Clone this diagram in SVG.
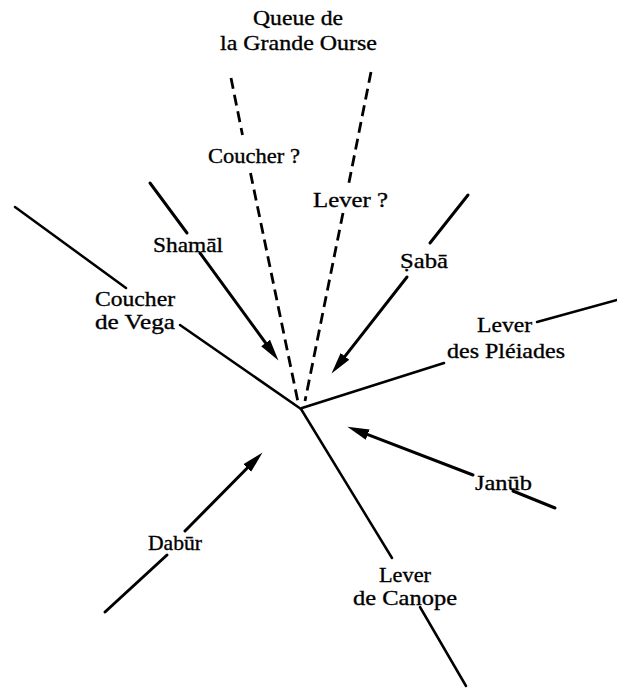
<svg xmlns="http://www.w3.org/2000/svg" width="617" height="688" viewBox="0 0 617 688">
<style>
  text { font-family: "Liberation Serif", "Times New Roman", serif; font-size: 22px; fill: #000; stroke: #000; stroke-width: 0.35; }
  .solid { stroke: #000; stroke-width: 2.5; fill: none; stroke-linecap: round; }
  .arrow { stroke: #000; stroke-width: 3; fill: none; stroke-linecap: round; }
  .dash { stroke: #000; stroke-width: 2.8; fill: none; stroke-dasharray: 11 6; }
</style>
<defs>
  <marker id="head" markerUnits="userSpaceOnUse" markerWidth="24" markerHeight="14" viewBox="0 -6 22 12" refX="12" refY="0" orient="auto">
    <path d="M0,-5 L20,0 L0,5 z" fill="#000"/>
  </marker>
</defs>
<rect width="617" height="688" fill="#fff"/>
<g id="connectors">
  <path class="solid" d="M15,207 L126,288 M180,325 L301,409"/>
  <path class="solid" d="M302,408 L444,363 M537,322 L617,300"/>
  <path class="solid" d="M301,409 L392,558 M420,607 L466,686"/>
  <path class="dash" d="M231,78 L242.5,135 M250.5,173 L298,402"/>
  <path class="dash" d="M371,72 L348.5,185 M343,213 L305,401"/>
  <path class="arrow" d="M150,183 L187,233"/>
  <path class="arrow" d="M200,253 L273.3,353.5" marker-end="url(#head)"/>
  <path class="arrow" d="M468,195 L430,243"/>
  <path class="arrow" d="M407,277 L336.9,366.7" marker-end="url(#head)"/>
  <path class="arrow" d="M555,508 L513,491"/>
  <path class="arrow" d="M473,475 L355.5,429.9" marker-end="url(#head)"/>
  <path class="arrow" d="M105,612 L167,555"/>
  <path class="arrow" d="M185,531 L256.4,458.7" marker-end="url(#head)"/>
</g>
<g id="queue">
  <text x="253" y="25" textLength="90" lengthAdjust="spacingAndGlyphs">Queue de</text>
  <text x="220" y="50" textLength="157" lengthAdjust="spacingAndGlyphs">la Grande Ourse</text>
</g>
<g id="coucher-q"><text x="208" y="163" textLength="92" lengthAdjust="spacingAndGlyphs">Coucher ?</text></g>
<g id="lever-q"><text x="313" y="207" textLength="75" lengthAdjust="spacingAndGlyphs">Lever  ?</text></g>
<g id="shamal"><text x="153" y="252" textLength="70" lengthAdjust="spacingAndGlyphs">Shamāl</text></g>
<g id="saba"><text x="400" y="268" textLength="48" lengthAdjust="spacingAndGlyphs">Ṣabā</text></g>
<g id="vega">
  <text x="95" y="306" textLength="80" lengthAdjust="spacingAndGlyphs">Coucher</text>
  <text x="95" y="329" textLength="80" lengthAdjust="spacingAndGlyphs">de Vega</text>
</g>
<g id="pleiades">
  <text x="477" y="332" textLength="55" lengthAdjust="spacingAndGlyphs">Lever</text>
  <text x="447" y="358" textLength="118" lengthAdjust="spacingAndGlyphs">des Pléiades</text>
</g>
<g id="janub"><text x="475" y="490" textLength="57" lengthAdjust="spacingAndGlyphs">Janūb</text></g>
<g id="dabur"><text x="148" y="550" textLength="54" lengthAdjust="spacingAndGlyphs">Dabūr</text></g>
<g id="canope">
  <text x="379" y="582" textLength="52" lengthAdjust="spacingAndGlyphs">Lever</text>
  <text x="353" y="605" textLength="104" lengthAdjust="spacingAndGlyphs">de Canope</text>
</g>
</svg>
